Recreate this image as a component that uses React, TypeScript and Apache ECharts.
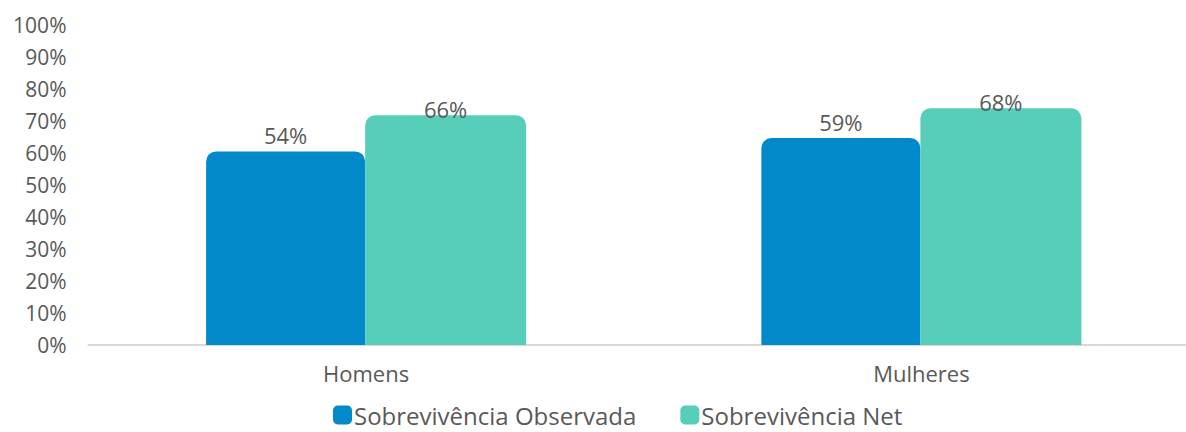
import React, { useEffect, useRef } from "react";
import * as echarts from "echarts";

const categories = ["Homens", "Mulheres"];
const seriesNames = ["Sobrevivência Observada", "Sobrevivência Net"];
const observedValues = [60.5, 64.7];
const netValues = [71.8, 74];
const observedLabels = ["54%", "59%"];
const netLabels = ["66%", "68%"];
const colors = ["#0189CA", "#57CEBA"];
const textColor = "#595959";
const fontFamily = "'Open Sans', Lato, sans-serif";

export default function App() {
  const ref = useRef<HTMLDivElement>(null);
  useEffect(() => {
    if (!ref.current) return;
    const chart = echarts.init(ref.current, null, { renderer: "svg" });
    chart.setOption({
      animation: false,
      textStyle: { fontFamily, color: textColor },
      grid: { left: 88.5, right: 0, top: 25, height: 320, containLabel: false },
      legend: {
        top: 403,
        left: 333,
        padding: 0,
        itemWidth: 19,
        itemHeight: 19,
        itemGap: 44,
        icon: "roundRect",
        textStyle: { fontFamily, fontSize: 24, lineHeight: 24, color: textColor, padding: [0, 0, 0, -3] },
        data: seriesNames,
      },
      xAxis: {
        type: "category",
        data: categories,
        axisLine: { show: true, lineStyle: { color: "#D9D9D9", width: 2 } },
        axisTick: { show: false },
        axisLabel: { fontFamily, fontSize: 22, color: textColor, margin: 17 },
      },
      yAxis: {
        type: "value",
        min: 0,
        max: 100,
        interval: 10,
        splitLine: { show: false },
        axisLine: { show: false },
        axisTick: { show: false },
        axisLabel: { fontFamily, fontSize: 21, color: textColor, margin: 22, formatter: "{value}%" },
      },
      series: [
        {
          name: seriesNames[0],
          type: "bar",
          data: observedValues,
          barWidth: 159,
          barGap: "0%",
          itemStyle: { color: colors[0], borderRadius: [10, 10, 0, 0] },
          label: {
            show: true,
            position: "top",
            distance: 5,
            fontFamily,
            fontSize: 22,
            color: textColor,
            formatter: (p: any) => observedLabels[p.dataIndex],
          },
        },
        {
          name: seriesNames[1],
          type: "bar",
          data: netValues,
          barWidth: 161,
          itemStyle: { color: colors[1], borderRadius: [10, 10, 0, 0] },
          label: {
            show: true,
            position: "top",
            distance: -5,
            fontFamily,
            fontSize: 22,
            color: textColor,
            formatter: (p: any) => netLabels[p.dataIndex],
          },
        },
      ],
    });
    return () => chart.dispose();
  }, []);
  return (
    <div
      style={{ position: "absolute", left: 0, top: 0, width: 1186, height: 432, overflow: "hidden", background: "#fff" }}
    >
      <div ref={ref} style={{ width: 1199, height: 432 }} />
    </div>
  );
}
